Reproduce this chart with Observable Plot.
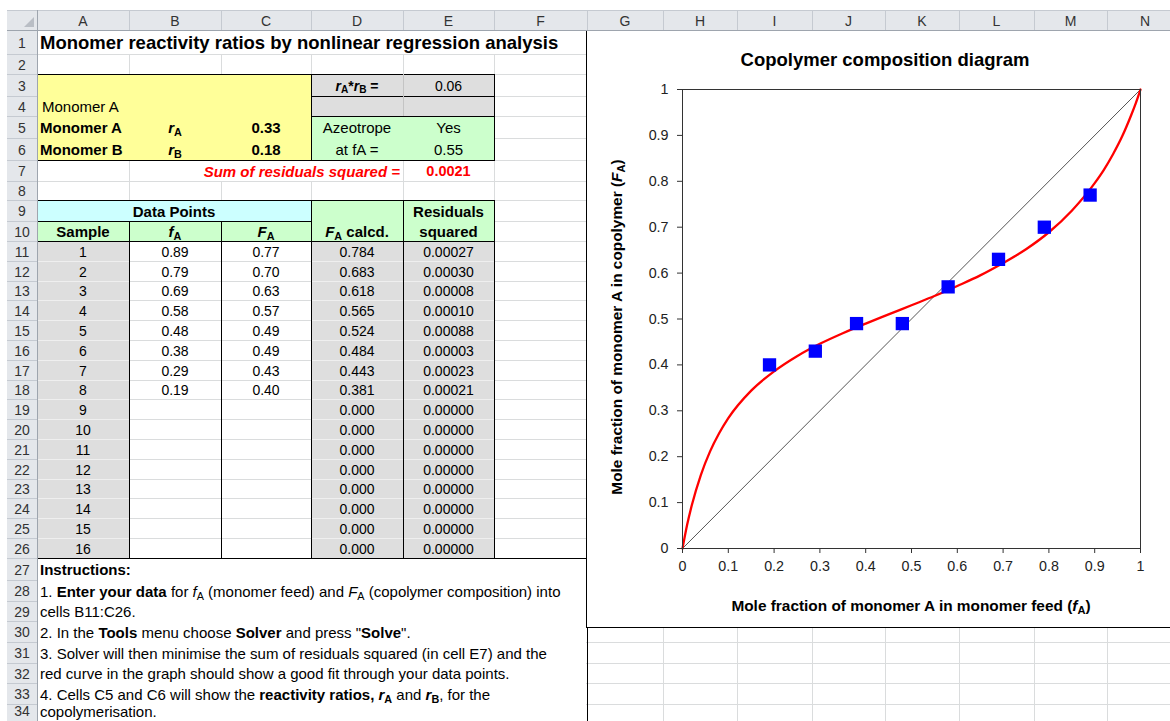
<!DOCTYPE html>
<html><head><meta charset="utf-8">
<script src="https://cdn.jsdelivr.net/npm/d3@7"></script>
<script src="https://cdn.jsdelivr.net/npm/@observablehq/plot@0.6"></script>
<style>
body{margin:0;background:#fff;}
#sheet{position:relative;width:1170px;height:721px;overflow:hidden;background:#fff;font-family:"Liberation Sans",Arial,sans-serif;font-size:14px;color:#000;}
sub{font-size:0.72em;vertical-align:baseline;position:relative;top:0.28em;line-height:0;}
</style></head><body><div id="sheet"></div>
<script>
// ---------- data ----------
const sheetTitle = "Monomer reactivity ratios by nonlinear regression analysis";
const rA = 0.33, rB = 0.18, rProduct = 0.06, azeotrope = "Yes", azeotropeFA = 0.55, sumResidSq = 0.0021;
const samples = [1,2,3,4,5,6,7,8,9,10,11,12,13,14,15,16];
const feedFA = [0.89,0.79,0.69,0.58,0.48,0.38,0.29,0.19];
const copolyFA = [0.77,0.70,0.63,0.57,0.49,0.49,0.43,0.40];
const calcFA = [0.784,0.683,0.618,0.565,0.524,0.484,0.443,0.381,0,0,0,0,0,0,0,0];
const residSq = [0.00027,0.00030,0.00008,0.00010,0.00088,0.00003,0.00023,0.00021,0,0,0,0,0,0,0,0];
// fitted curve
const curveFeed =   [0,0.01,0.02,0.04,0.06,0.08,0.10,0.15,0.20,0.25,0.30,0.35,0.40,0.45,0.50,0.55,0.60,0.65,0.70,0.75,0.80,0.85,0.90,0.92,0.94,0.96,0.98,0.99,1];
const curveCopoly = [0,0.051,0.093,0.160,0.211,0.251,0.284,0.344,0.386,0.419,0.446,0.469,0.490,0.510,0.530,0.550,0.572,0.595,0.622,0.652,0.689,0.736,0.796,0.825,0.859,0.898,0.945,0.971,1];
const diagFeed = [0,1];
const diagCopoly = [0,1];
const axisTicks = [0,0.1,0.2,0.3,0.4,0.5,0.6,0.7,0.8,0.9,1];
const colLetters = ["A","B","C","D","E","F","G","H","I","J","K","L","M","N"];
const chartTitle = "Copolymer composition diagram";

// ---------- layout ----------
const CE = [37,129,221,311,403,494,587,663,737,812,885,959,1034,1107,1183];
const RE = [];
RE[1]=30; RE[2]=54; RE[3]=74; RE[4]=96; RE[5]=116; RE[6]=138; RE[7]=160; RE[8]=181; RE[9]=200; RE[10]=221; RE[11]=241;
for (let r = 12; r <= 27; r++) RE[r] = Math.round(241 + (r - 11) * 19.8);
RE[28]=580; RE[29]=601; RE[30]=621; RE[31]=642; RE[32]=663; RE[33]=683; RE[34]=704; RE[35]=725;

const S = document.getElementById("sheet");
function box(x, y, w, h, bg, extra) {
  const d = document.createElement("div");
  d.style.cssText = `position:absolute;left:${x}px;top:${y}px;width:${w}px;height:${h}px;background:${bg};` + (extra || "");
  S.appendChild(d); return d;
}
const H = (x1, x2, y, c) => box(x1, y, x2 - x1, 1, c);
const V = (x, y1, y2, c) => box(x, y1, 1, y2 - y1, c);
const TXT = "font-size:15px;";
function cell(c1, c2, r1, r2, html, align, css) {
  const x = CE[c1], w = CE[c2 + 1] - CE[c1], y = RE[r1], h = RE[r2 + 1] - RE[r1];
  const j = align === "left" ? "flex-start" : align === "right" ? "flex-end" : "center";
  const d = box(x, y, w, h, "transparent", `display:flex;align-items:center;justify-content:${j};padding:1px 3px 0 3px;box-sizing:border-box;white-space:nowrap;` + (css || ""));
  d.innerHTML = `<span style="white-space:pre">${html}</span>`; return d;
}

// gridlines
const GRID = "#dadcdd";
for (let r = 2; r <= 35; r++) H(37, 1170, RE[r], GRID);
for (let i = 1; i < CE.length; i++) V(CE[i], 30, 721, GRID);
// overflow covers
box(38, 31, 548, 23, "#fff");
box(130, 161, 272, 20, "#fff");
box(38, 559, 548, 170, "#fff");

// fills
box(37, 74, 274, 86, "#ffff99");
box(311, 74, 183, 42, "#dedede");
box(311, 116, 183, 44, "#ccffcc");
box(37, 200, 274, 21, "#ccffff");
box(311, 200, 183, 41, "#ccffcc");
box(37, 221, 274, 20, "#ccffcc");
box(37, 241, 92, 317, "#dedede");
box(311, 241, 183, 317, "#dedede");
for (let r = 12; r <= 26; r++) { H(38, 129, RE[r], "#efefef"); H(312, 494, RE[r], "#efefef"); }

// borders
const K = "#000";
H(37, 495, 74, K); H(311, 495, 96, K); H(311, 495, 116, K); H(37, 495, 160, K);
V(37, 74, 161, K); V(311, 74, 161, K); V(494, 74, 161, K);
V(403, 74, 116, "#c4c4c4");
H(37, 495, 200, K); H(37, 311, 221, K); H(37, 495, 241, K); H(37, 587, 558, K);
V(37, 200, 559, K); V(129, 221, 559, K); V(221, 221, 559, K); V(311, 200, 559, K); V(403, 200, 559, K); V(494, 200, 559, K);

// texts
const it = s => `<i>${s}</i>`;
cell(0, 5, 1, 1, sheetTitle, "left", "font-weight:bold;font-size:18.5px;");
cell(0, 0, 4, 4, "Monomer A", "left", TXT + "padding-left:5px;");
cell(0, 0, 5, 5, "Monomer A", "left", TXT + "font-weight:bold;");
cell(0, 0, 6, 6, "Monomer B", "left", TXT + "font-weight:bold;");
cell(1, 1, 5, 5, it("r") + "<sub>A</sub>", "center", TXT + "font-weight:bold;");
cell(1, 1, 6, 6, it("r") + "<sub>B</sub>", "center", TXT + "font-weight:bold;");
cell(2, 2, 5, 5, rA.toFixed(2), "center", "font-weight:bold;font-size:15px;");
cell(2, 2, 6, 6, rB.toFixed(2), "center", "font-weight:bold;font-size:15px;");
cell(3, 3, 3, 3, it("r") + "<sub>A</sub>*" + it("r") + "<sub>B</sub> =", "center", "font-weight:bold;");
cell(4, 4, 3, 3, rProduct.toFixed(2), "center");
cell(3, 3, 5, 5, "Azeotrope", "center", TXT);
cell(4, 4, 5, 5, azeotrope, "center", TXT);
cell(3, 3, 6, 6, "at fA =", "center", TXT);
cell(4, 4, 6, 6, azeotropeFA.toFixed(2), "center", TXT);
cell(1, 3, 7, 7, "Sum of residuals squared =", "right", TXT + "font-weight:bold;font-style:italic;color:#ff0000;");
cell(4, 4, 7, 7, sumResidSq.toFixed(4), "center", "font-weight:bold;color:#ff0000;font-size:14.5px;");
cell(0, 2, 9, 9, "Data Points", "center", TXT + "font-weight:bold;");
cell(4, 4, 9, 9, "Residuals", "center", TXT + "font-weight:bold;");
cell(0, 0, 10, 10, "Sample", "center", TXT + "font-weight:bold;");
cell(1, 1, 10, 10, it("f") + "<sub>A</sub>", "center", TXT + "font-weight:bold;");
cell(2, 2, 10, 10, it("F") + "<sub>A</sub>", "center", TXT + "font-weight:bold;");
cell(3, 3, 10, 10, it("F") + "<sub>A</sub> calcd.", "center", TXT + "font-weight:bold;");
cell(4, 4, 10, 10, "squared", "center", TXT + "font-weight:bold;");
samples.forEach((s, i) => {
  const r = 11 + i;
  cell(0, 0, r, r, String(s), "center");
  if (i < feedFA.length) {
    cell(1, 1, r, r, feedFA[i].toFixed(2), "center");
    cell(2, 2, r, r, copolyFA[i].toFixed(2), "center");
  }
  cell(3, 3, r, r, calcFA[i].toFixed(3), "center");
  cell(4, 4, r, r, residSq[i].toFixed(5), "center");
});
const instr = [
  "<b>Instructions:</b>",
  "1. <b>Enter your data</b> for " + it("f") + "<sub>A</sub> (monomer feed) and " + it("F") + "<sub>A</sub> (copolymer composition) into",
  "cells B11:C26.",
  "2. In the <b>Tools</b> menu choose <b>Solver</b> and press \"<b>Solve</b>\".",
  "3. Solver will then minimise the sum of residuals squared (in cell E7) and the",
  "red curve in the graph should show a good fit through your data points.",
  "4. Cells C5 and C6 will show the <b>reactivity ratios, " + it("r") + "<sub>A</sub></b> and <b>" + it("r") + "<sub>B</sub></b>, for the",
  "copolymerisation."
];
instr.forEach((t, i) => cell(0, 5, 27 + i, 27 + i, t, "left", TXT + (i === 7 ? "padding-bottom:7px;" : "")));

// chart area
box(586, 30, 600, 598, "#fff", "border-left:1px solid #000;border-bottom:1px solid #000;box-sizing:border-box;");
V(587, 627, 721, "#000");

const curveData = curveFeed.map((f, i) => ({f, F: curveCopoly[i]}));
const pts = feedFA.map((f, i) => ({f, F: copolyFA[i]}));
const diag = diagFeed.map((f, i) => ({f, F: diagCopoly[i]}));
const plot = Plot.plot({
  width: 583, height: 596,
  marginLeft: 95, marginRight: 30, marginTop: 58, marginBottom: 79,
  style: {fontFamily: '"Liberation Sans", Arial, sans-serif', fontSize: "14.3px", color: "#222", background: "transparent", overflow: "visible"},
  x: {domain: [0, 1]},
  y: {domain: [0, 1]},
  marks: [
    Plot.line(diag, {x: "f", y: "F", stroke: "#555", strokeWidth: 1}),
    Plot.line(curveData, {x: "f", y: "F", stroke: "#ff0000", strokeWidth: 2.3, curve: "monotone-x"}),
    Plot.dot(pts, {x: "f", y: "F", symbol: "square", r: 7.5, fill: "#0000ff", stroke: "none"}),
    Plot.frame({stroke: "#333"}),
    Plot.axisX({ticks: axisTicks, tickSize: 5, tickPadding: 7, label: null, stroke: "#333", fill: "#222", tickFormat: d => String(d)}),
    Plot.axisY({ticks: axisTicks, tickSize: 5, tickPadding: 9, label: null, stroke: "#333", fill: "#222", tickFormat: d => String(d)})
  ]
});
plot.style.position = "absolute";
plot.style.left = "587px";
plot.style.top = "31px";
S.appendChild(plot);

const t1 = box(587, 48, 596, 24, "transparent", "text-align:center;font-weight:bold;font-size:18.5px;line-height:24px;white-space:nowrap;");
t1.textContent = chartTitle;
const xl = box(611, 597, 600, 18, "transparent", "text-align:center;font-weight:bold;font-size:15.4px;line-height:18px;white-space:nowrap;");
xl.innerHTML = "Mole fraction of monomer A in monomer feed (" + it("f") + "<sub>A</sub>)";
const yl = box(417, 318, 400, 18, "transparent", "text-align:center;font-weight:bold;font-size:15.4px;line-height:18px;white-space:nowrap;transform:rotate(-90deg);transform-origin:50% 50%;");
yl.innerHTML = "Mole fraction of monomer A in copolymer (" + it("F") + "<sub>A</sub>)";

// headers
const HB = "#e4e7eb", HS = "#c5cad1", HD = "#9ea5ae";
box(7, 10, 1163, 20, HB);
box(7, 31, 30, 690, HB);
H(7, 1170, 10, HS);
H(7, 1170, 30, HD);
V(37, 10, 721, HD);
for (let i = 1; i < CE.length; i++) V(CE[i], 11, 30, HS);
for (let r = 2; r <= 35; r++) H(7, 37, RE[r], HS);
box(24, 17, 0, 0, "transparent", "border-left:10px solid transparent;border-bottom:10px solid #b9bec5;");
colLetters.forEach((l, i) => {
  const d = box(CE[i], 11, CE[i + 1] - CE[i], 19, "transparent", "display:flex;align-items:center;justify-content:center;color:#333;font-size:14px;");
  d.textContent = l;
});
for (let r = 1; r <= 34; r++) {
  const d = box(7, RE[r], 30, RE[r + 1] - RE[r], "transparent", "display:flex;align-items:center;justify-content:center;color:#333;font-size:14px;box-sizing:border-box;" + (r === 34 ? "padding-bottom:7px;" : "padding-top:1px;"));
  d.textContent = String(r);
}
</script></body></html>
